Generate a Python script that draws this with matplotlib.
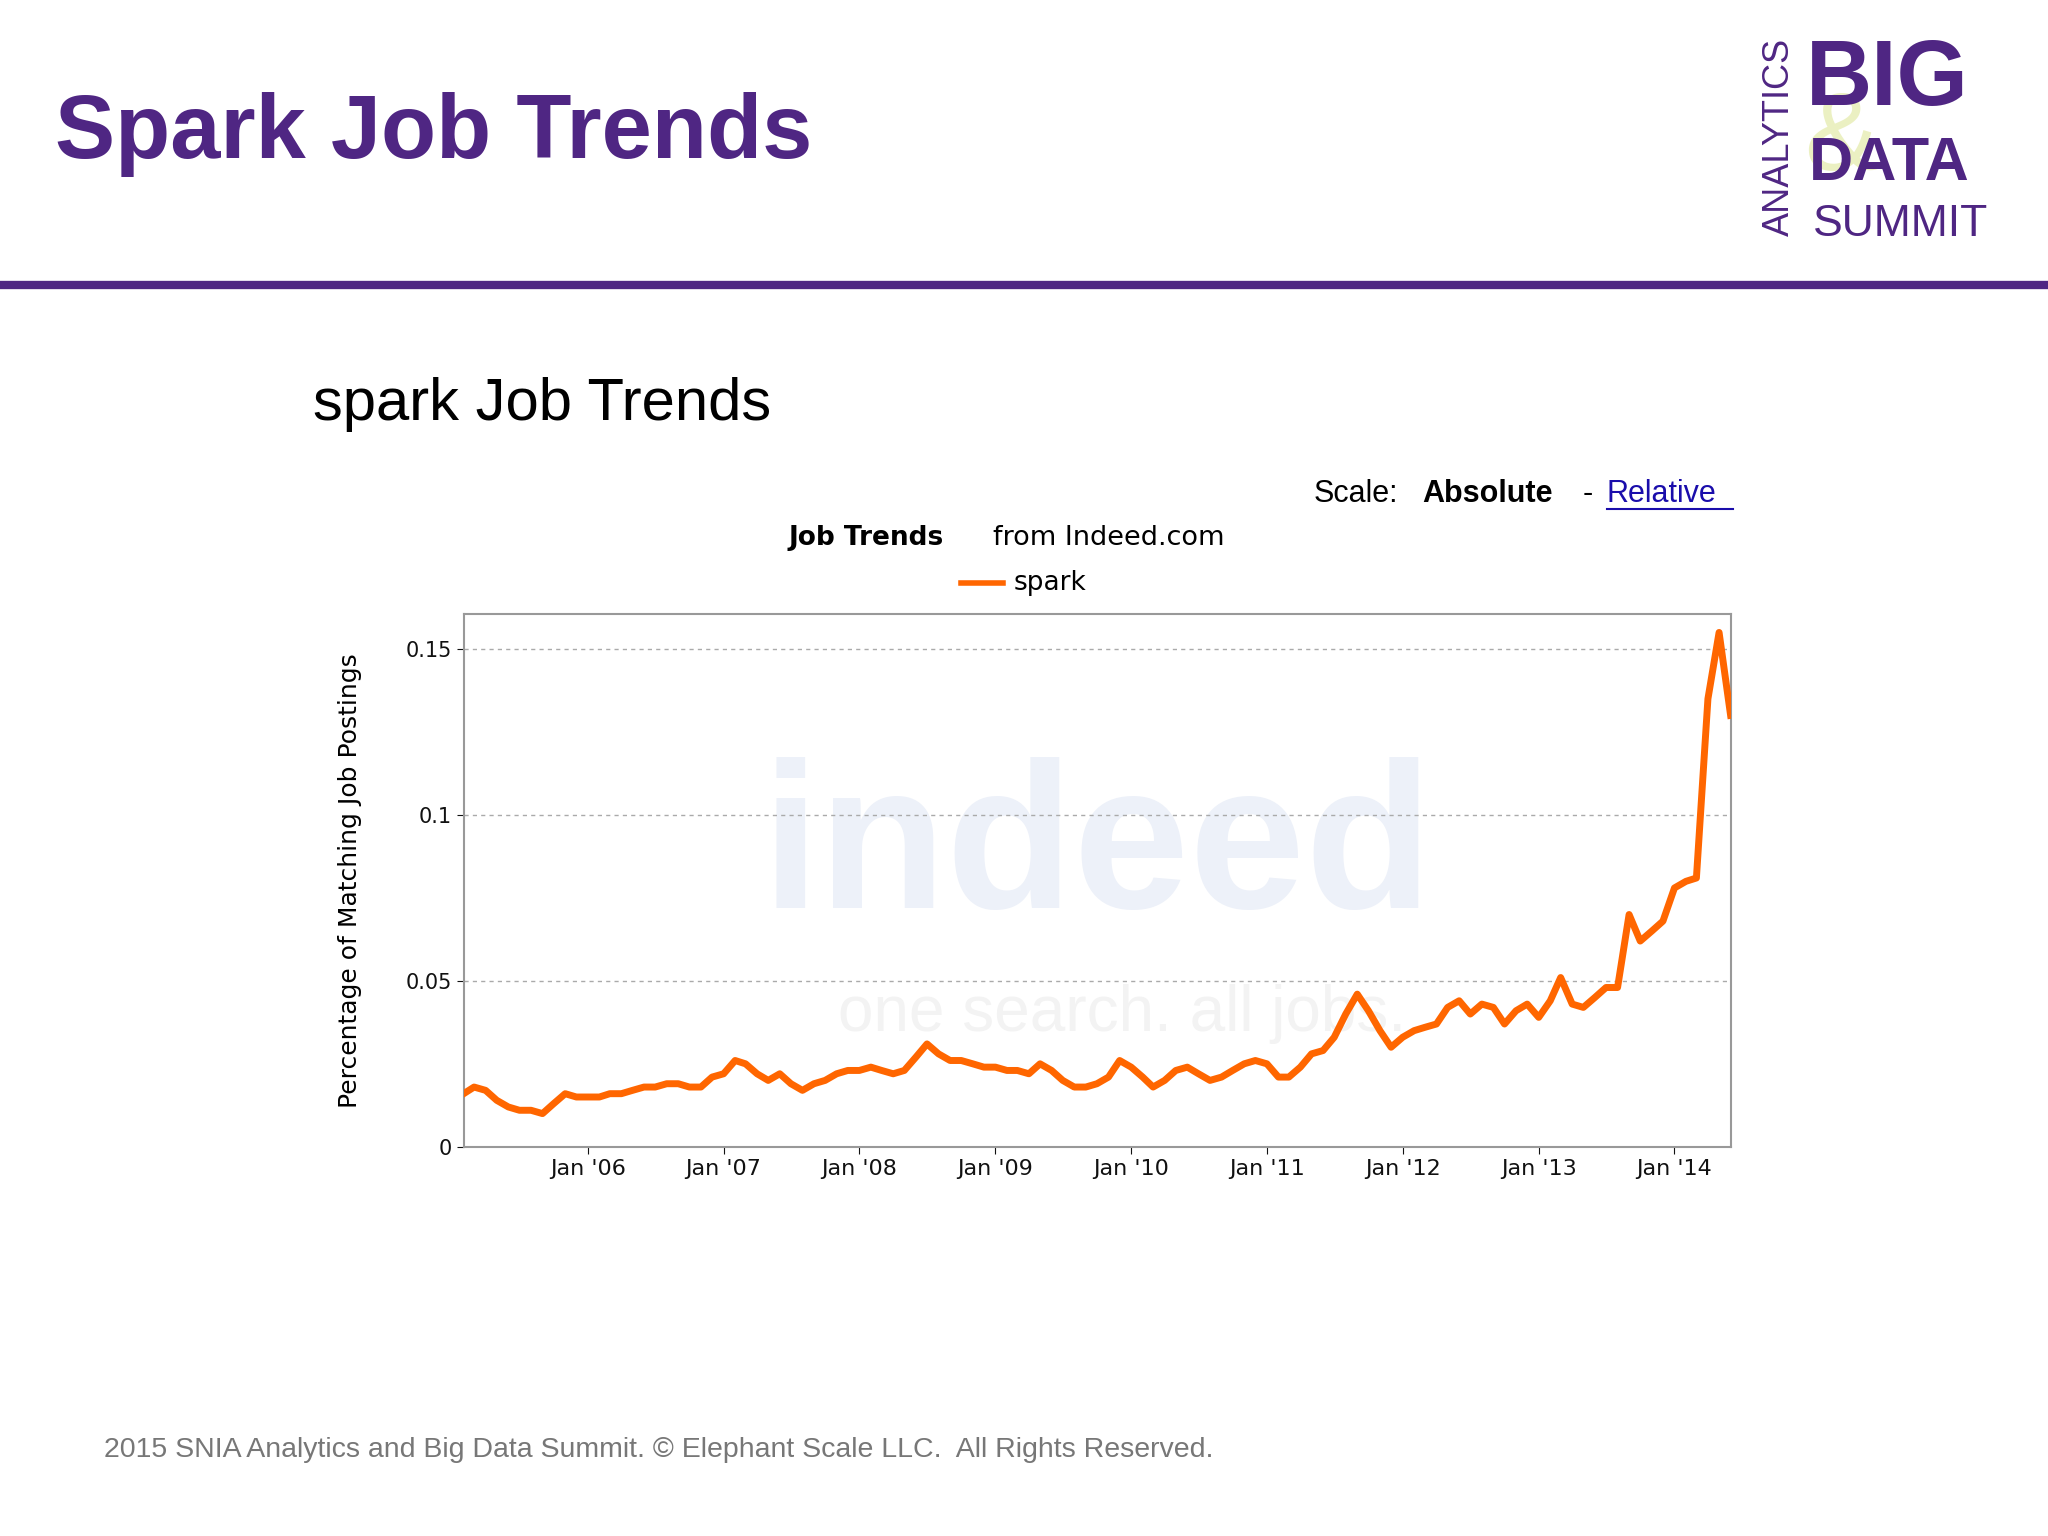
import matplotlib
matplotlib.use("Agg")
import matplotlib.pyplot as plt
import matplotlib.lines as mlines
import pandas as pd

start_month = "2005-02"
spark_values = [
    # 2005 Feb-Dec
    .016, .018, .017, .014, .012, .011, .011, .010, .013, .016, .015,
    # 2006
    .015, .015, .016, .016, .017, .018, .018, .019, .019, .018, .018, .021,
    # 2007
    .022, .026, .025, .022, .020, .022, .019, .017, .019, .020, .022, .023,
    # 2008
    .023, .024, .023, .022, .023, .027, .031, .028, .026, .026, .025, .024,
    # 2009
    .024, .023, .023, .022, .025, .023, .020, .018, .018, .019, .021, .026,
    # 2010
    .024, .021, .018, .020, .023, .024, .022, .020, .021, .023, .025, .026,
    # 2011
    .025, .021, .021, .024, .028, .029, .033, .040, .046, .041, .035, .030,
    # 2012
    .033, .035, .036, .037, .042, .044, .040, .043, .042, .037, .041, .043,
    # 2013
    .039, .044, .051, .043, .042, .045, .048, .048, .070, .062, .065, .068,
    # 2014
    .078, .080, .081, .135, .155, .130,
]
y_ticks = [0, 0.05, 0.1, 0.15]
y_tick_labels = ["0", "0.05", "0.1", "0.15"]
x_tick_dates = ["2006-01", "2007-01", "2008-01", "2009-01", "2010-01",
                "2011-01", "2012-01", "2013-01", "2014-01"]
x_tick_labels = ["Jan '06", "Jan '07", "Jan '08", "Jan '09", "Jan '10",
                 "Jan '11", "Jan '12", "Jan '13", "Jan '14"]

dates = pd.date_range(start=start_month, periods=len(spark_values), freq="MS")

W, H = 1568, 1176
fig = plt.figure(figsize=(20.48, 15.36), dpi=100)
purple = "#4f2683"

def fx(x): return x / W
def fy(y): return 1 - y / H

fig.text(fx(42), fy(103), "Spark Job Trends", fontsize=65, color=purple,
         fontweight="bold", family="Liberation Sans", va="center")
fig.add_artist(mlines.Line2D([0, 1], [fy(218), fy(218)], color=purple, lw=6))
# logo
fig.text(fx(1410), fy(108), "&", fontsize=80, color="#dfe79a", alpha=0.6,
         family="Liberation Sans", va="center", ha="center", zorder=0)
fig.text(fx(1383), fy(62), "BIG", fontsize=66, color=purple, fontweight="bold",
         family="Liberation Sans", va="center", ha="left")
fig.text(fx(1385), fy(126), "DATA", fontsize=44, color=purple, fontweight="bold",
         family="Liberation Sans", va="center", ha="left")
fig.text(fx(1388), fy(172), "SUMMIT", fontsize=32, color=purple,
         family="Liberation Sans", va="center", ha="left")
fig.text(fx(1362), fy(105), "ANALYTICS", fontsize=26, color=purple, rotation=90,
         family="Liberation Sans", va="center", ha="center")

fig.text(fx(240), fy(310), "spark Job Trends", fontsize=43, color="black",
         family="Liberation Sans", va="center")
fig.text(fx(1006), fy(378), "Scale:", fontsize=22, family="Liberation Sans", va="center")
fig.text(fx(1089), fy(378), "Absolute", fontsize=22, fontweight="bold", family="Liberation Sans", va="center")
fig.text(fx(1212), fy(378), "-", fontsize=22, family="Liberation Sans", va="center")
fig.text(fx(1230), fy(378), "Relative", fontsize=22, color="#1a0dab",
         family="Liberation Sans", va="center")
fig.add_artist(mlines.Line2D([fx(1230), fx(1327)], [fy(390), fy(390)], color="#1a0dab", lw=1.5))

fig.text(fx(604), fy(412), "Job Trends", fontsize=19, fontweight="bold", family="DejaVu Sans", va="center")
fig.text(fx(760), fy(412), "from Indeed.com", fontsize=19.5, family="DejaVu Sans", va="center")
fig.add_artist(mlines.Line2D([fx(736), fx(768)], [fy(446), fy(446)], color="#ff6600", lw=4))
fig.text(fx(776), fy(446), "spark", fontsize=19, family="DejaVu Sans", va="center")

ax = fig.add_axes([fx(355), fy(878), fx(1325) - fx(355), fy(470) - fy(878)])
ax.text(0.5, 0.55, "indeed", transform=ax.transAxes, fontsize=150, fontweight="bold",
        color="#edf1f9", ha="center", va="center", family="Liberation Sans", zorder=0)
ax.text(0.52, 0.25, "one search. all jobs.", transform=ax.transAxes, fontsize=46,
        color="#f3f3f3", ha="center", va="center", family="Liberation Sans", zorder=0)
ax.plot(dates, spark_values, color="#ff6600", lw=5, zorder=3)
ax.set_xlim(dates[0], dates[-1])
ax.set_ylim(0, 0.1606)
ax.set_yticks(y_ticks)
ax.set_yticklabels(y_tick_labels, fontsize=15)
ax.set_xticks(pd.to_datetime(x_tick_dates))
ax.set_xticklabels(x_tick_labels, fontsize=16)
ax.grid(axis="y", linestyle=(0, (3, 3)), color="#aaaaaa", lw=1)
ax.tick_params(colors="#111111", length=5, direction="out")
for s in ax.spines.values():
    s.set_color("#999999")
    s.set_linewidth(1.5)
ax.set_ylabel("Percentage of Matching Job Postings", fontsize=18)
ax.yaxis.set_label_coords(-0.08, 0.5)

fig.text(fx(80), fy(1110), "2015 SNIA Analytics and Big Data Summit. \u00a9 Elephant Scale LLC.  All Rights Reserved.",
         fontsize=20.5, color="#777777", family="Liberation Sans", va="center")
fig.savefig("out.png", dpi=100, facecolor="white")
